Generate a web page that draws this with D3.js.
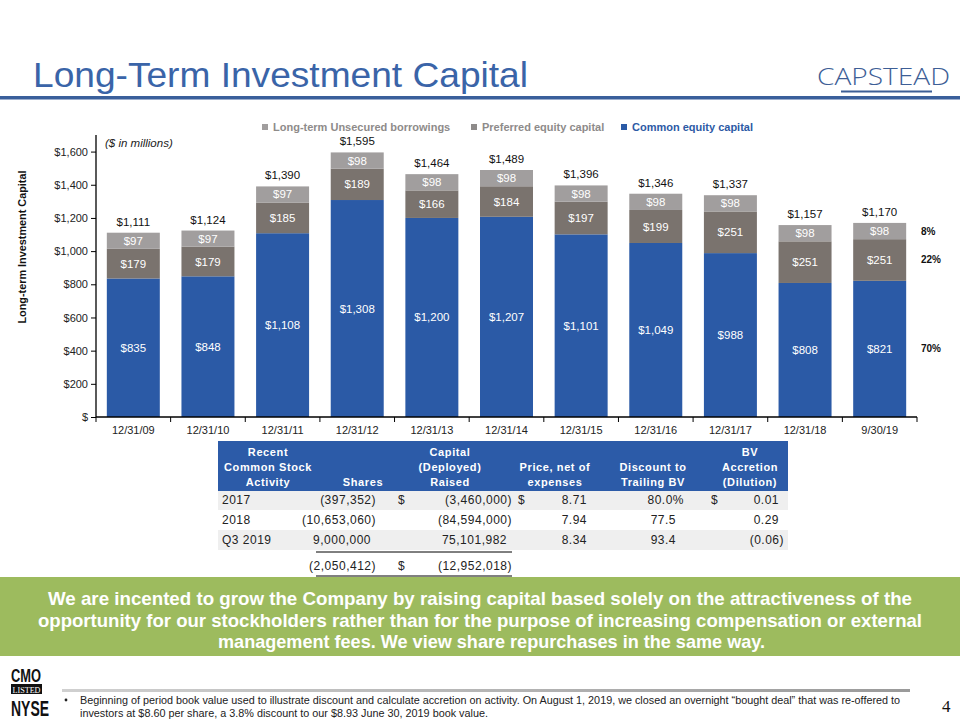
<!DOCTYPE html>
<html><head><meta charset="utf-8">
<script src="https://cdn.jsdelivr.net/npm/d3@7"></script>
<style>body{margin:0;background:#fff}svg{display:block;font-family:"Liberation Sans",Arial,sans-serif}</style>
</head><body>
<svg id="c" width="960" height="720"></svg>
<script>
// ---------- data ----------
const categories = ["12/31/09","12/31/10","12/31/11","12/31/12","12/31/13","12/31/14","12/31/15","12/31/16","12/31/17","12/31/18","9/30/19"];
const commonEquity = [835,848,1108,1308,1200,1207,1101,1049,988,808,821];
const preferredEquity = [179,179,185,189,166,184,197,199,251,251,251];
const unsecuredBorrowings = [97,97,97,98,98,98,98,98,98,98,98];
const seriesNames = ["Long-term Unsecured borrowings","Preferred equity capital","Common equity capital"];
const yTicks = [0,200,400,600,800,1000,1200,1400,1600];
const mixLabels = ["70%","22%","8%"];

const tableHeader = [["Recent","Common Stock","Activity"],["","","Shares"],["Capital","(Deployed)","Raised"],["","Price, net of","expenses"],["","Discount to","Trailing BV"],["BV","Accretion","(Dilution)"]];
const tableRows = [
  ["2017","(397,352)","$","(3,460,000)","$","8.71","80.0%","$","0.01"],
  ["2018","(10,653,060)","","(84,594,000)","","7.94","77.5","","0.29"],
  ["Q3 2019","9,000,000","","75,101,982","","8.34","93.4","","(0.06)"],
  ["","(2,050,412)","$","(12,952,018)","","","","",""]
];
const boxLines = ["We are incented to grow the Company by raising capital based solely on the attractiveness of the",
  "opportunity for our stockholders rather than for the purpose of increasing compensation or external",
  "management fees. We view share repurchases in the same way."];
const footLines = ["Beginning of period book value used to illustrate discount and calculate accretion on activity. On August 1, 2019, we closed an overnight \u201cbought deal\u201d that was re-offered to",
  "investors at $8.60 per share, a 3.8% discount to our $8.93 June 30, 2019 book value."];

// ---------- setup ----------
const svg = d3.select("#c");
const BLUE = "#2B5AA6", PREF = "#7A736E", UNSEC = "#A19E9E", TITLE = "#3A64A8";
const NARROW = "'Liberation Sans Narrow','Liberation Sans',sans-serif";

// title
svg.append("text").attr("x",33).attr("y",87).attr("font-size",35).attr("fill",TITLE).attr("font-family",NARROW)
  .attr("textLength",495).attr("lengthAdjust","spacingAndGlyphs").text("Long-Term Investment Capital");
svg.append("rect").attr("x",0).attr("y",96).attr("width",960).attr("height",3.5).attr("fill","#3A5F9B");
// logo
svg.append("text").attr("x",817).attr("y",85).attr("font-size",24).attr("font-family","'Open Sans',sans-serif")
  .attr("font-weight",300).attr("fill","#3D5E96").attr("textLength",133).attr("lengthAdjust","spacingAndGlyphs").text("CAPSTEAD");
svg.append("rect").attr("x",841).attr("y",90.5).attr("width",91).attr("height",2).attr("fill","#3D5E96");

// ---------- chart ----------
const x = d3.scaleBand().domain(categories).range([96,917]).paddingInner(0.29).paddingOuter(0.145);
const y = d3.scaleLinear().domain([0,1700]).range([417,135]);
const rows = categories.map((c,i)=>({cat:c, common:commonEquity[i], pref:preferredEquity[i], unsec:unsecuredBorrowings[i]}));
const keys = ["common","pref","unsec"];
const colors = {common:BLUE, pref:PREF, unsec:UNSEC};
const stack = d3.stack().keys(keys)(rows);

const g = svg.append("g");
stack.forEach(layer=>{
  g.selectAll(null).data(layer).join("rect")
    .attr("x",d=>x(d.data.cat)).attr("width",x.bandwidth())
    .attr("y",d=>y(d[1])).attr("height",d=>y(d[0])-y(d[1]))
    .attr("fill",colors[layer.key]);
  g.selectAll(null).data(layer).join("text")
    .attr("x",d=>x(d.data.cat)+x.bandwidth()/2).attr("y",d=>y((d[0]+d[1])/2)).attr("dy","0.35em")
    .attr("text-anchor","middle").attr("font-size",11.5).attr("fill","#fff")
    .text(d=>"$"+d3.format(",")(d[1]-d[0]));
});
// totals
g.selectAll(null).data(stack[2]).join("text")
  .attr("x",d=>x(d.data.cat)+x.bandwidth()/2).attr("y",d=>y(d[1])-7)
  .attr("text-anchor","middle").attr("font-size",11.5).attr("fill","#111")
  .text(d=>"$"+d3.format(",")(d[1]));

// y axis
const yAxis = d3.axisLeft(y).tickValues(yTicks).tickSize(5).tickPadding(3)
  .tickFormat(d=>d===0?"$":"$"+d3.format(",")(d));
const ya = svg.append("g").attr("transform","translate(96,0)").call(yAxis);
ya.select(".domain").attr("d",`M0,${y(0)}V${y(1700)}`).attr("stroke","#000").attr("stroke-width",1.3);
ya.selectAll("text").attr("font-size",11).attr("fill","#222").attr("font-family","'Liberation Sans',Arial,sans-serif");
ya.selectAll(".tick line").attr("stroke","#000");

// x axis
const xa = svg.append("g").attr("transform",`translate(0,${y(0)})`).call(d3.axisBottom(x).tickSize(0).tickPadding(9));
xa.select(".domain").attr("d","M96,0H917").attr("stroke","#000").attr("stroke-width",1.3);
xa.selectAll("text").attr("font-size",11).attr("fill","#222").attr("font-family","'Liberation Sans',Arial,sans-serif");
const step = x.step();
xa.selectAll(null).data(d3.range(categories.length+1)).join("line")
  .attr("x1",i=>96+i*step).attr("x2",i=>96+i*step).attr("y1",0).attr("y2",5).attr("stroke","#000");

// y title
svg.append("text").attr("transform","translate(26,247) rotate(-90)").attr("text-anchor","middle")
  .attr("font-size",11).attr("font-weight","bold").attr("fill","#111")
  .attr("textLength",153).attr("lengthAdjust","spacingAndGlyphs").text("Long-term Investment Capital");
svg.append("text").attr("x",105).attr("y",147).attr("font-size",11.5).attr("font-style","italic").attr("fill","#222").text("($ in millions)");

// legend
const legX = [262,471,621];
const legColors = [UNSEC, "#8E8B8A", BLUE];
const legText = ["#8E8B8A","#8E8B8A","#2D5AA5"];
seriesNames.forEach((n,i)=>{
  svg.append("rect").attr("x",legX[i]).attr("y",124).attr("width",6).attr("height",6).attr("fill",legColors[i]);
  svg.append("text").attr("x",legX[i]+11).attr("y",131).attr("font-size",11).attr("font-weight","bold")
    .attr("fill",legText[i]).text(n);
});

// right mix labels
const last = categories.length-1;
stack.forEach((layer,i)=>{
  const d = layer[last];
  svg.append("text").attr("x",921).attr("y",y((d[0]+d[1])/2)).attr("dy","0.35em")
    .attr("font-size",10).attr("font-weight","bold").attr("fill","#111").text(mixLabels[i]);
});

// ---------- table ----------
const T = svg.append("g");
T.append("rect").attr("x",218).attr("y",441).attr("width",570).attr("height",50).attr("fill","#2C5BA8");
const hdrX = [268,363,450,555,653,750];
tableHeader.forEach((col,ci)=>col.forEach((t,li)=>{
  if(!t) return;
  T.append("text").attr("x",hdrX[ci]).attr("y",456+li*15).attr("text-anchor","middle")
    .attr("font-size",11).attr("font-weight","bold").attr("fill","#fff").attr("letter-spacing",0.6).text(t);
}));
const rowY = [500,520,540,566];
T.append("rect").attr("x",218).attr("y",491).attr("width",570).attr("height",19).attr("fill","#EFEFEF");
T.append("rect").attr("x",218).attr("y",530).attr("width",570).attr("height",20).attr("fill","#EFEFEF");
const colPos = [[222,"start"],[376,"end"],[398,"start"],[512,"end"],[518,"start"],[587,"end"],[684,"end"],[711,"start"],[784,"end"]];
tableRows.forEach((r,ri)=>r.forEach((t,ci)=>{
  if(!t) return;
  let xp = colPos[ci][0];
  const anchor = colPos[ci][1];
  if(anchor==="end" && !/[)%]$/.test(t) && (ci===1||ci===3||ci===8||ci===6)) xp -= (ci===6?8:5);
  T.append("text").attr("x",xp).attr("y",rowY[ri]).attr("dy","0.35em").attr("text-anchor",anchor)
    .attr("font-size",12).attr("fill","#222").attr("letter-spacing",0.5).text(t);
}));
T.append("line").attr("x1",316).attr("x2",512).attr("y1",552).attr("y2",552).attr("stroke","#000");
T.append("line").attr("x1",316).attr("x2",512).attr("y1",576).attr("y2",576).attr("stroke","#000");

// ---------- green box ----------
svg.append("rect").attr("x",0).attr("y",577).attr("width",960).attr("height",79).attr("fill","#9DBB5E");
const boxW = [[48,864],[38,884],[218,547]];
boxLines.forEach((t,i)=>{
  svg.append("text").attr("x",boxW[i][0]).attr("y",605+i*21.5).attr("font-size",19).attr("font-weight","bold")
    .attr("font-family",NARROW).attr("fill","#fff")
    .attr("textLength",boxW[i][1]).attr("lengthAdjust","spacingAndGlyphs").text(t);
});

// ---------- footer ----------
const grad = svg.append("defs").append("linearGradient").attr("id","fg");
grad.append("stop").attr("offset","0").attr("stop-color","#D0D0D0");
grad.append("stop").attr("offset","1").attr("stop-color","#9A9A9A");
svg.append("rect").attr("x",62).attr("y",689).attr("width",848).attr("height",3).attr("fill","url(#fg)");
svg.append("circle").attr("cx",66).attr("cy",700).attr("r",1.4).attr("fill","#222");
const footW = [820,408];
footLines.forEach((t,i)=>{
  svg.append("text").attr("x",80).attr("y",704+i*12.5).attr("font-size",10)
    .attr("font-family",NARROW).attr("fill","#222")
    .attr("textLength",footW[i]).attr("lengthAdjust","spacingAndGlyphs").text(t);
});
svg.append("text").attr("x",942).attr("y",712).attr("font-size",17).attr("font-family","'Liberation Serif',serif").attr("fill","#111").text("4");
// NYSE logo
svg.append("text").attr("x",11).attr("y",682).attr("font-size",19).attr("font-weight","bold")
  .attr("font-family",NARROW).attr("fill","#111")
  .attr("textLength",30).attr("lengthAdjust","spacingAndGlyphs").text("CMO");
svg.append("rect").attr("x",11).attr("y",684).attr("width",31).attr("height",10).attr("fill","#111");
svg.append("text").attr("x",26.5).attr("y",692.5).attr("text-anchor","middle").attr("font-size",8.5)
  .attr("font-family","'Liberation Serif',serif").attr("fill","#fff").attr("textLength",28).attr("lengthAdjust","spacingAndGlyphs").text("LISTED");
svg.append("text").attr("x",11).attr("y",716).attr("font-size",22).attr("font-weight","bold")
  .attr("font-family",NARROW).attr("fill","#111")
  .attr("textLength",38).attr("lengthAdjust","spacingAndGlyphs").text("NYSE");
</script>
</body></html>
